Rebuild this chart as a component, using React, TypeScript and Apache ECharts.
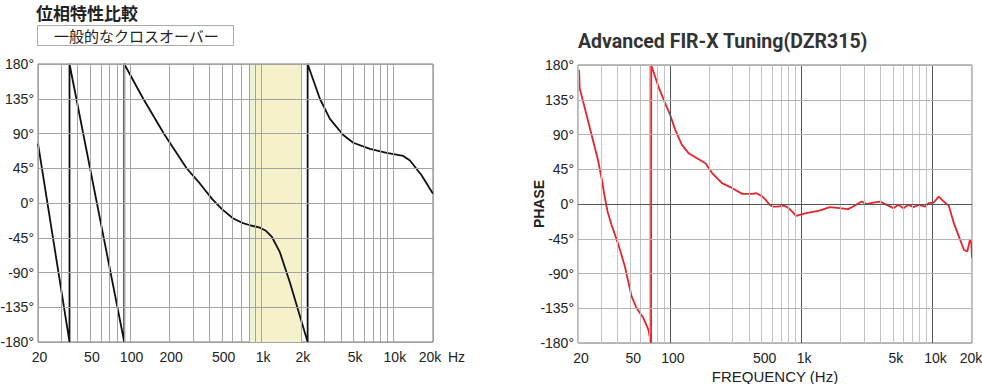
import React, { useEffect, useRef } from 'react';
import * as echarts from 'echarts';

// ---- data ----
const phaseTicks = [-180, -135, -90, -45, 0, 45, 90, 135, 180];
const gridFreqs = [20, 30, 40, 50, 60, 70, 80, 90, 100, 200, 300, 400, 500, 600, 700, 800, 900, 1000, 2000, 3000, 4000, 5000, 6000, 7000, 8000, 9000, 10000, 20000];
const majorFreqs = [100, 1000, 10000];
const leftTickFreqs = [20, 50, 100, 200, 500, 1000, 2000, 5000, 10000, 20000];
const leftTickLabels = ['20', '50', '100', '200', '500', '1k', '2k', '5k', '10k', '20k'];
const rightTickFreqs = [20, 50, 100, 500, 1000, 5000, 10000, 20000];
const rightTickLabels = ['20', '50', '100', '500', '1k', '5k', '10k', '20k'];
const bandFrom = [800, 900];
const bandTo = [900, 2000];

// typical crossover (black)
const typicalFreq = [20, 34.7, 34.7, 90.4, 90.4, 126, 182, 269, 340, 421, 499, 608, 721, 804, 970, 1077, 1196, 1376, 1638, 2233, 2233, 2767, 3297, 4160, 4955, 6636, 8883, 11885, 13365, 16375, 20000];
const typicalPhase = [77, -180, 180, -180, 180, 135, 89, 45, 25, 5, -8, -20, -26, -28.5, -32, -36, -44, -64, -103, -180, 180, 135, 109, 88, 78, 70, 65, 61, 55, 36, 12];

// Advanced FIR-X (red)
const firFreq = [20, 20.4, 20.6, 22.4, 25.2, 28.4, 30.5, 31.9, 33.6, 36.0, 38.3, 41.7, 45.5, 51.2, 55.8, 62.9, 68.7, 71.5, 72.0, 72.2, 72.8, 81.9, 92.2, 100.7, 110, 123.6, 139, 161, 187, 210, 250, 299, 357, 425, 457, 508, 540, 575, 606, 662, 745, 813, 916, 1092, 1381, 1648, 1966, 2277, 2489, 2886, 3150, 3541, 3984, 4484, 5039, 5503, 6013, 6567, 7177, 7838, 8826, 9354, 10215, 11161, 12192, 13316, 14548, 15885, 17348, 18413, 19280, 19770, 20000];
const firPhase = [174, 173, 150, 126, 91.6, 57, 30, 10, -10, -27, -40, -59, -81, -119.7, -134.7, -147.7, -162.8, -178, -180, 180, 178, 152, 130.4, 115.3, 96, 76.5, 65.8, 59.3, 52.8, 40, 27, 20.5, 13.1, 13.1, 14, 9.6, 5, -1, -3.3, -3.3, -2.0, -6, -15.3, -11.8, -8.5, -4.1, -5.4, -6.7, -3.3, 3.2, -0.2, 1.9, 3.2, -1.1, -5.4, -1.1, -5.4, -1.1, -4.1, -1.1, -3.3, 1.1, 1.9, 9.6, 3.2, -2.4, -24.8, -42, -59.3, -61.5, -46.4, -50.6, -70];

const LABEL_FONT = '"Liberation Sans", Arial, sans-serif';
const CJK_FONT = '"Noto Sans CJK JP", sans-serif';

function pairs(xs: number[], ys: number[]) {
  return xs.map((x, i) => [x, ys[i]]);
}

function vLines(ticks: number[], labels: string[], minorColor: string, majorColor: string | null, shift: number, lastShift: number) {
  return gridFreqs.map((f) => {
    const ti = ticks.indexOf(f);
    const isMajor = majorColor && majorFreqs.indexOf(f) >= 0;
    const isLast = ti === ticks.length - 1;
    const pad = isLast ? [0, lastShift, 0, 0] : [0, 0, 0, shift];
    return {
      xAxis: f,
      lineStyle: { color: isMajor ? majorColor : minorColor, width: 1, type: 'solid' },
      label: ti >= 0 ? { show: true, formatter: labels[ti], padding: pad } : { show: false },
    };
  });
}

function hLines(color: string, zeroColor: string) {
  return phaseTicks.map((v) => ({
    yAxis: v,
    lineStyle: { color: v === 0 ? zeroColor : color, width: 1, type: 'solid' },
    label: { show: false },
  }));
}

const markLineBase = {
  silent: true,
  symbol: ['none', 'none'],
  symbolSize: 0,
  animation: false,
  label: {
    position: 'start',
    distance: 8,
    fontSize: 14,
    color: '#222',
    fontFamily: LABEL_FONT,
  },
  emphasis: { disabled: true },
};

export default function App() {
  const ref = useRef<HTMLDivElement>(null);
  useEffect(() => {
    if (!ref.current) return;
    const chart = echarts.init(ref.current, undefined, { renderer: 'svg' });
    const yAxisCommon = {
      type: 'value',
      min: -180,
      max: 180,
      interval: 45,
      axisLine: { show: false, onZero: false },
      axisTick: { show: false },
      splitLine: { show: false },
      axisLabel: {
        fontSize: 14,
        color: '#222',
        fontFamily: LABEL_FONT,
        margin: 4,
        formatter: (v: number) => v + '°',
      },
    };
    const xAxisCommon = {
      type: 'log',
      logBase: 10,
      min: 20,
      max: 20000,
      position: 'bottom',
      axisLine: { show: false, onZero: false },
      axisTick: { show: false },
      splitLine: { show: false },
      axisLabel: { show: false },
    };
    chart.setOption({
      animation: false,
      backgroundColor: '#ffffff',
      title: [
        {
          text: '位相特性比較',
          left: 36,
          top: 4,
          padding: 0,
          textStyle: { fontSize: 17, fontWeight: 'bold', color: '#222', fontFamily: CJK_FONT },
        },
        {
          text: '一般的なクロスオーバー',
          left: 37,
          top: 25,
          padding: [3, 15, 3, 17],
          borderColor: '#aaa',
          borderWidth: 1,
          textStyle: { fontSize: 15, fontWeight: 'normal', color: '#222', fontFamily: CJK_FONT },
        },
        {
          text: 'Advanced FIR-X Tuning(DZR315)',
          left: 578,
          top: 31,
          padding: 0,
          textStyle: { fontSize: 19.5, fontWeight: 'bold', color: '#333', fontFamily: 'Roboto, sans-serif' },
        },
      ],
      grid: [
        { left: 38, right: 549, top: 64, bottom: 42, outerBoundsMode: 'none', containLabel: false, show: true, borderColor: '#777', borderWidth: 1, backgroundColor: 'transparent' },
        { left: 578, right: 10, top: 65, bottom: 41, outerBoundsMode: 'none', containLabel: false, show: true, borderColor: '#777', borderWidth: 1, backgroundColor: 'transparent' },
      ],
      xAxis: [
        {
          ...xAxisCommon,
          gridIndex: 0,
          name: 'Hz',
          nameLocation: 'end',
          nameGap: 15,
          nameMoveOverlap: false,
          nameTextStyle: { fontSize: 14, color: '#222', fontFamily: LABEL_FONT, verticalAlign: 'top', padding: [8, 0, 0, 0] },
        },
        {
          ...xAxisCommon,
          gridIndex: 1,
          name: 'FREQUENCY (Hz)',
          nameLocation: 'middle',
          nameGap: 26,
          nameMoveOverlap: false,
          nameTextStyle: { fontSize: 15, color: '#222', fontFamily: LABEL_FONT },
        },
      ],
      yAxis: [
        { ...yAxisCommon, gridIndex: 0 },
        {
          ...yAxisCommon,
          gridIndex: 1,
          name: 'PHASE',
          nameLocation: 'middle',
          nameRotate: 90,
          nameGap: 32,
          nameMoveOverlap: false,
          nameTextStyle: { fontSize: 14, fontWeight: 'bold', color: '#222', fontFamily: LABEL_FONT },
        },
      ],
      series: [
        {
          type: 'line',
          xAxisIndex: 0,
          yAxisIndex: 0,
          data: [],
          z: 0,
          silent: true,
          markArea: {
            silent: true,
            data: [
              [{ xAxis: bandFrom[0], itemStyle: { color: '#eef3d6' } }, { xAxis: bandTo[0] }],
              [{ xAxis: bandFrom[1], itemStyle: { color: '#f4f1cb' } }, { xAxis: bandTo[1] }],
            ],
          },
        },
        {
          type: 'line',
          xAxisIndex: 0,
          yAxisIndex: 0,
          data: [],
          z: 1,
          markLine: {
            ...markLineBase,
            data: [...vLines(leftTickFreqs, leftTickLabels, '#a3a3a3', null, 3, 6), ...hLines('#a3a3a3', '#a3a3a3')],
          },
        },
        {
          type: 'line',
          xAxisIndex: 0,
          yAxisIndex: 0,
          z: 3,
          silent: true,
          symbol: 'none',
          lineStyle: { color: '#111', width: 1.8 },
          data: pairs(typicalFreq, typicalPhase),
        },
        {
          type: 'line',
          xAxisIndex: 1,
          yAxisIndex: 1,
          data: [],
          z: 1,
          markLine: {
            ...markLineBase,
            data: [...vLines(rightTickFreqs, rightTickLabels, '#c4c4c4', '#555', 6, 2), ...hLines('#b4b4b4', '#555')],
          },
        },
        {
          type: 'line',
          xAxisIndex: 1,
          yAxisIndex: 1,
          z: 3,
          silent: true,
          symbol: 'none',
          lineStyle: { color: '#e8242c', width: 1.8 },
          data: pairs(firFreq, firPhase),
        },
      ],
    });
    return () => chart.dispose();
  }, []);
  return <div ref={ref} style={{ position: 'fixed', left: 0, top: 0, width: 982, height: 384 }} />;
}
